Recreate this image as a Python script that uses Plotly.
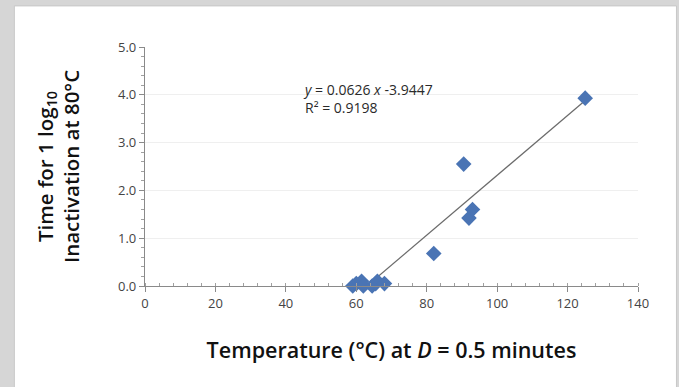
import plotly.graph_objects as go

# Temperature (°C) at which D = 0.5 min, and time for 1 log10 inactivation at 80 °C
temperature = [59, 60, 61.5, 62, 64.5, 65.5, 66, 68, 82, 90.5, 92, 93, 125]
log_time = [0.0, 0.05, 0.1, 0.0, 0.0, 0.05, 0.1, 0.05, 0.68, 2.55, 1.42, 1.6, 3.93]

# Linear trendline coefficients and fit quality
slope = 0.0626
intercept = -3.9447
r_squared = 0.9198

x_ticks = [0, 20, 40, 60, 80, 100, 120, 140]
y_ticks = [0, 1, 2, 3, 4, 5]

font_family = "Open Sans, Noto Sans, sans-serif"

fit_x = [min(temperature), max(temperature)]
fit_y = [slope * v + intercept for v in fit_x]

fig = go.Figure()

fig.add_trace(go.Scatter(
    x=fit_x, y=fit_y, mode="lines",
    line=dict(color="#6b6b6b", width=1.2),
    hoverinfo="skip", showlegend=False,
))

fig.add_trace(go.Scatter(
    x=temperature, y=log_time, mode="markers",
    marker=dict(symbol="diamond", size=12, color="#4a74b4",
                line=dict(width=0)),
    cliponaxis=False, showlegend=False,
))

# white card on a grey frame
fig.add_shape(type="rect", xref="paper", yref="paper",
              x0=-0.265, x1=1.078, y0=-0.45, y1=1.172,
              fillcolor="white", line=dict(color="#c8c8c8", width=1),
              layer="below")

# trendline equation and R² label
fig.add_annotation(
    xref="x", yref="y", x=44.3, y=4.36, xanchor="left", yanchor="top",
    align="left",
    text=(f"<i>y</i> = {slope:.4f} <i>x</i> {intercept:.4f}"
          f"<br>R² = {r_squared:.4f}"),
    showarrow=False, font=dict(family=font_family, size=14, color="#2a2a2a"),
)

fig.update_xaxes(
    range=[0, 140], tickvals=x_ticks, ticktext=[str(v) for v in x_ticks],
    showgrid=False, zeroline=False,
    showline=True, linecolor="#8a8a8a", linewidth=1.2,
    ticks="outside", ticklen=5, tickcolor="#8a8a8a",
    minor=dict(dtick=4, ticks="inside", ticklen=3, tickcolor="#a0a0a0"),
    tickfont=dict(family=font_family, size=13, color="#444444"),
    title=dict(text="Temperature (°C) at <i>D</i> = 0.5 minutes",
               font=dict(family=font_family, size=21.5, color="#111111",
                         weight=600),
               standoff=32),
)

fig.update_yaxes(
    range=[0, 5], tickvals=y_ticks, ticktext=[f"{v:.1f}" for v in y_ticks],
    showgrid=True, gridcolor="#efefef", gridwidth=1, zeroline=False,
    showline=True, linecolor="#8a8a8a", linewidth=1.2,
    ticks="outside", ticklen=5, tickcolor="#8a8a8a",
    minor=dict(dtick=0.2, ticks="outside", ticklen=3, tickcolor="#a0a0a0"),
    tickfont=dict(family=font_family, size=13, color="#444444"),
    title=dict(text="Time for 1 log<sub>10</sub><br>Inactivation at 80°C",
               font=dict(family=font_family, size=20.5, color="#111111",
                         weight=600),
               standoff=32),
)

fig.update_layout(
    width=679, height=387,
    margin=dict(l=145, r=41, t=47, b=101),
    paper_bgcolor="#d6d6d6", plot_bgcolor="rgba(0,0,0,0)",
)

fig.write_html("out.html")
